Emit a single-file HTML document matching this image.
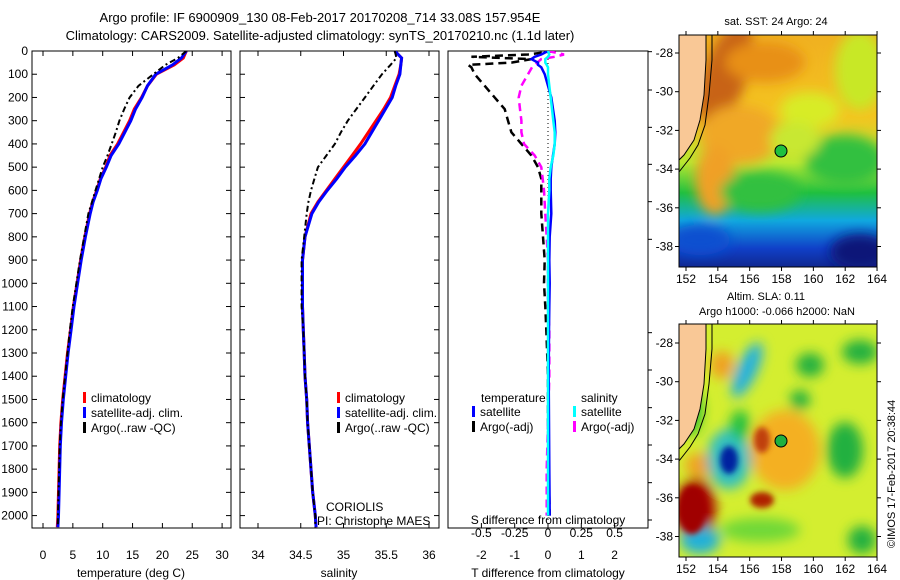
<!DOCTYPE html>
<html><head><meta charset="utf-8"><style>
body{margin:0;background:#fff;}
svg{display:block;font-family:"Liberation Sans",sans-serif;}
</style></head><body>
<svg id="c" width="900" height="580" xmlns="http://www.w3.org/2000/svg">
<defs>
<filter id="bl" x="-50%" y="-50%" width="200%" height="200%"><feGaussianBlur stdDeviation="6"/></filter>
<filter id="bl2" x="-50%" y="-50%" width="200%" height="200%"><feGaussianBlur stdDeviation="3"/></filter>
<clipPath id="m1"><rect x="679" y="35" width="198" height="232"/></clipPath>
<clipPath id="m2"><rect x="679" y="324" width="198" height="233"/></clipPath>
<clipPath id="p1"><rect x="32" y="51" width="199" height="477"/></clipPath>
<clipPath id="p2"><rect x="240" y="51" width="199" height="477"/></clipPath>
<clipPath id="p3"><rect x="448" y="51" width="200" height="477"/></clipPath>
<linearGradient id="sstg" x1="0" y1="0" x2="0" y2="1">
<stop offset="0" stop-color="#f0b020"/><stop offset="0.35" stop-color="#f4c420"/><stop offset="0.55" stop-color="#b8e830"/><stop offset="0.68" stop-color="#20c040"/><stop offset="0.8" stop-color="#10a8e0"/><stop offset="0.92" stop-color="#1040c8"/><stop offset="1" stop-color="#102890"/>
</linearGradient>
</defs>
<text x="320" y="22" font-size="13" text-anchor="middle">Argo profile: IF 6900909_130 08-Feb-2017 20170208_714 33.08S 157.954E</text>
<text x="320" y="40" font-size="13" text-anchor="middle">Climatology: CARS2009. Satellite-adjusted climatology: synTS_20170210.nc (1.1d later)</text>
<g id="g1"></g>
<g id="g2"></g>
<g id="g3"></g>

<g>
<g clip-path="url(#m1)">
<rect x="679" y="35" width="198" height="232" fill="url(#sstg)"/>
<g filter="url(#bl)">
<ellipse cx="725" cy="75" rx="22" ry="55" fill="#c86418" transform="rotate(20 725 75)"/>
<ellipse cx="765" cy="62" rx="40" ry="20" fill="#e89018"/>
<ellipse cx="740" cy="135" rx="40" ry="30" fill="#f0a828"/>
<ellipse cx="715" cy="180" rx="20" ry="35" fill="#f0a028"/>
<ellipse cx="860" cy="70" rx="25" ry="40" fill="#c8e828"/>
<ellipse cx="810" cy="110" rx="30" ry="18" fill="#d8ec28"/>
<ellipse cx="760" cy="192" rx="40" ry="20" fill="#30c040"/>
<ellipse cx="845" cy="160" rx="40" ry="25" fill="#30c040"/>
<ellipse cx="795" cy="140" rx="25" ry="18" fill="#c8e830"/>
<ellipse cx="700" cy="240" rx="30" ry="15" fill="#1050d0"/>
<ellipse cx="860" cy="252" rx="30" ry="18" fill="#081878"/>
</g>
<polygon points="679,35 706,35 706,60 704,95 700,120 694,140 684,155 679,160" fill="#f9c896"/>
<polyline points="706,35 706,60 704,95 700,120 694,140 684,155 679,160" fill="none" stroke="#000" stroke-width="1"/>
<polyline points="712,35 712,60 709,95 705,125 698,145 690,158 679,172" fill="none" stroke="#000" stroke-width="1"/>
</g>
<rect x="679" y="35" width="198" height="232" fill="none" stroke="#000"/>
<circle cx="781" cy="151" r="6" fill="#20c040" stroke="#000"/>
<text x="776" y="25" font-size="11" text-anchor="middle">sat. SST: 24 Argo: 24</text>
</g>

<g>
<g clip-path="url(#m2)">
<rect x="679" y="324" width="198" height="233" fill="#d4ee30"/>
<g filter="url(#bl)">
<ellipse cx="696" cy="510" rx="20" ry="32" fill="#a80000"/>
<ellipse cx="700" cy="465" rx="15" ry="12" fill="#f0a020"/>
<ellipse cx="729" cy="459" rx="22" ry="30" fill="#30c0c0"/>
<ellipse cx="747" cy="370" rx="10" ry="30" fill="#20b0e0" transform="rotate(25 747 370)"/>
<ellipse cx="785" cy="450" rx="35" ry="40" fill="#f4b020"/>
<ellipse cx="722" cy="365" rx="12" ry="14" fill="#f0a020"/>
<ellipse cx="810" cy="365" rx="14" ry="12" fill="#20b040"/>
<ellipse cx="800" cy="400" rx="10" ry="10" fill="#20b040"/>
<ellipse cx="845" cy="450" rx="18" ry="28" fill="#20b040"/>
<ellipse cx="860" cy="352" rx="18" ry="12" fill="#20b040"/>
<ellipse cx="760" cy="530" rx="40" ry="12" fill="#70d838"/>
<ellipse cx="700" cy="540" rx="20" ry="14" fill="#20b0d8"/>
<ellipse cx="862" cy="540" rx="14" ry="14" fill="#20b040"/>
<ellipse cx="690" cy="410" rx="12" ry="25" fill="#20c030"/>
<ellipse cx="740" cy="425" rx="10" ry="15" fill="#20c040"/>
</g>
<g filter="url(#bl2)">
<ellipse cx="729" cy="460" rx="9" ry="14" fill="#0020a0"/>
<ellipse cx="762" cy="440" rx="8" ry="13" fill="#c04010"/>
<ellipse cx="762" cy="500" rx="12" ry="8" fill="#b02000"/>
<ellipse cx="692" cy="510" rx="14" ry="24" fill="#a00000"/>
</g>
<polygon points="679,324 706,324 706,349 704,384 700,409 694,429 684,444 679,449" fill="#f9c896"/>
<polyline points="706,324 706,349 704,384 700,409 694,429 684,444 679,449" fill="none" stroke="#000"/>
<polyline points="712,324 712,349 709,384 705,414 698,434 690,447 679,461" fill="none" stroke="#000"/>
</g>
<rect x="679" y="324" width="198" height="233" fill="none" stroke="#000"/>
<circle cx="781" cy="441" r="6" fill="#20b040" stroke="#000"/>
<text x="766" y="300" font-size="11" text-anchor="middle">Altim. SLA: 0.11</text>
<text x="777" y="315" font-size="11" text-anchor="middle">Argo h1000: -0.066 h2000: NaN</text>
<text transform="translate(895 548) rotate(-90)" font-size="11">©IMOS 17-Feb-2017 20:38:44</text>
</g>
<g id="maxes"></g>
</svg>
<script>
// ---- data ----
const depths = [0,30,60,100,150,200,250,300,350,400,450,500,550,600,650,700,800,900,1000,1100,1200,1300,1400,1500,1600,1700,1800,1900,2000,2050];
const tempClim = [24,23.5,22,19,17.5,16.5,15.3,14.5,13.5,12.5,11.2,10.5,9.6,9,8.3,7.8,7,6.3,5.7,5.1,4.6,4.1,3.7,3.3,3.0,2.8,2.7,2.6,2.5,2.4];
const tempSat = [24,23.2,21.7,18.9,17.5,16.6,15.5,14.7,13.7,12.7,11.4,10.6,9.7,9.1,8.4,7.9,7.1,6.4,5.8,5.2,4.7,4.2,3.8,3.4,3.1,2.9,2.8,2.7,2.6,2.5];
const tempArgo = [24,22.6,20.5,18.5,16,14.5,13.6,12.8,12.2,11.5,10.8,10.0,9.4,8.8,8.2,7.6,6.9,6.2,5.6,5.0,4.5,4.1,3.7,3.3,3.0,2.8,2.7,2.6,2.5,2.5];
const salClim = [35.6,35.68,35.67,35.65,35.6,35.55,35.47,35.38,35.29,35.2,35.1,35.0,34.9,34.8,34.7,34.62,34.55,34.52,34.52,34.52,34.53,34.54,34.55,34.57,34.58,34.6,34.62,34.64,34.67,34.68];
const salSat = [35.6,35.68,35.67,35.66,35.61,35.57,35.49,35.41,35.33,35.25,35.14,35.02,34.92,34.81,34.71,34.63,34.55,34.52,34.52,34.52,34.53,34.54,34.55,34.57,34.58,34.6,34.62,34.64,34.67,34.68];
const salArgo = [35.6,35.62,35.55,35.45,35.35,35.25,35.15,35.05,34.97,34.9,34.8,34.7,34.66,34.62,34.59,34.57,34.54,34.51,34.51,34.51,34.53,34.54,34.55,34.57,34.58,34.6,34.62,34.64,34.67,34.67];
const tDiffDepths = [0,15,25,35,50,60,70,100,150,200,250,300,350,400,450,500,550,600,700,800,900,1000,1100,1200,1400,1600,1800,2000];
const tDiffArgo = [0.2,-0.6,-2.3,-0.5,-1.1,-2.4,-2.3,-2.2,-1.9,-1.6,-1.3,-1.2,-1.1,-0.8,-0.5,-0.3,-0.2,-0.2,-0.2,-0.15,-0.1,-0.12,-0.08,-0.05,0,0,0.02,0.05];
const tDiffSat = [0,-0.2,-0.4,-0.5,-0.3,-0.3,-0.2,-0.1,0,0.1,0.15,0.2,0.22,0.2,0.15,0.1,0.08,0.08,0.1,0.05,0.04,0.05,0.04,0.03,0.02,0.03,0.04,0.05];
const sDiffArgo = [0,0.12,0.05,-0.05,-0.08,-0.1,-0.12,-0.15,-0.2,-0.22,-0.21,-0.2,-0.2,-0.18,-0.1,-0.05,-0.04,-0.03,-0.02,-0.01,0,0,0,0.01,0.01,0,-0.01,-0.01];
const sDiffSat = [0,0.01,0,-0.02,-0.02,-0.01,0,0,0.01,0.02,0.03,0.04,0.05,0.05,0.04,0.02,0.01,0.01,0,0,0,0,0,0,0,0,0,0];
const depthTicks = [0,100,200,300,400,500,600,700,800,900,1000,1100,1200,1300,1400,1500,1600,1700,1800,1900,2000];
const tempTicks = [0,5,10,15,20,25,30];
const salTicks = [34,34.5,35,35.5,36];
const tDiffTicks = [-2,-1,0,1,2];
const sDiffTicks = [-0.5,-0.25,0,0.25,0.5];
const lonTicks = [152,154,156,158,160,162,164];
const latTicks = [-28,-30,-32,-34,-36,-38];

const NS='http://www.w3.org/2000/svg';
function mk(tag,attrs,parent,txt){const e=document.createElementNS(NS,tag);for(const k in attrs)e.setAttribute(k,attrs[k]);if(txt!==undefined)e.textContent=txt;parent.appendChild(e);return e;}
const yD = d => 51 + d*0.2323;
const xT = v => 43 + v*5.97;
const xS = v => 258 + (v-34)*85.5;
const xDT = v => 548 + v*33.3;
const xDS = v => 548 + v*133.2;

function frame(g,x0,x1){
  const r=mk('rect',{x:x0,y:51,width:x1-x0,height:477,fill:'none',stroke:'#000'},g);
  
  
}
function line(g,xs,ds,xf,color,w,dash,clip){
  const pts=xs.map((v,i)=>xf(v).toFixed(1)+','+yD(ds[i]).toFixed(1)).join(' ');
  const p=mk('polyline',{points:pts,fill:'none',stroke:color,'stroke-width':w,'clip-path':clip},g);
  if(dash)p.setAttribute('stroke-dasharray',dash);
  
  
  return p;
}
function xticks(g,ticks,xf,y){
  ticks.forEach(t=>{mk('line',{x1:xf(t),x2:xf(t),y1:528,y2:523,stroke:'#000'},g);mk('line',{x1:xf(t),x2:xf(t),y1:51,y2:56,stroke:'#000'},g);
    const tx=mk('text',{x:xf(t),y:y,'font-size':12,'text-anchor':'middle'},g,String(t));
    
    });
}
function legend(g,x,y,items){
  items.forEach((it,i)=>{mk('rect',{x:x,y:y+i*15-10,width:3,height:11,fill:it[0]},g);
    const t=mk('text',{x:x+8,y:y+i*15,'font-size':12},g,it[1]);
    
    });
}
// panel 1
const g1=document.getElementById('g1');
frame(g1,32,231);
depthTicks.forEach(d=>{mk('line',{x1:32,x2:37,y1:yD(d),y2:yD(d),stroke:'#000'},g1);mk('line',{x1:231,x2:226,y1:yD(d),y2:yD(d),stroke:'#000'},g1);
  const t=mk('text',{x:28,y:yD(d)+4,'font-size':12,'text-anchor':'end'},g1,String(d));
  
  });
xticks(g1,tempTicks,xT,559);
mk('text',{x:131,y:577,'font-size':12,'text-anchor':'middle'},g1,'temperature (deg C)');
line(g1,tempClim,depths,xT,'#f00',3,null,'url(#p1)');
line(g1,tempSat,depths,xT,'#00f',3,null,'url(#p1)');
line(g1,tempArgo,depths,xT,'#000',2,'6,3,2,3','url(#p1)');
legend(g1,83,402,[['#f00','climatology'],['#00f','satellite-adj. clim.'],['#000','Argo(..raw -QC)']]);
// panel 2
const g2=document.getElementById('g2');
frame(g2,240,439);
depthTicks.forEach(d=>{mk('line',{x1:240,x2:245,y1:yD(d),y2:yD(d),stroke:'#000'},g2);mk('line',{x1:439,x2:434,y1:yD(d),y2:yD(d),stroke:'#000'},g2);});
xticks(g2,salTicks,xS,559);
mk('text',{x:339,y:577,'font-size':12,'text-anchor':'middle'},g2,'salinity');
line(g2,salClim,depths,xS,'#f00',3,null,'url(#p2)');
line(g2,salSat,depths,xS,'#00f',3,null,'url(#p2)');
line(g2,salArgo,depths,xS,'#000',2,'6,3,2,3','url(#p2)');
legend(g2,337,402,[['#f00','climatology'],['#00f','satellite-adj. clim.'],['#000','Argo(..raw -QC)']]);
mk('text',{x:326,y:511,'font-size':12},g2,'CORIOLIS');
mk('text',{x:317,y:525,'font-size':12},g2,'PI: Christophe MAES');
// panel 3
const g3=document.getElementById('g3');
frame(g3,448,648);
mk('line',{x1:548,x2:548,y1:51,y2:528,stroke:'#000','stroke-dasharray':'1,3'},g3);
line(g3,tDiffArgo,tDiffDepths,xDT,'#000',2.5,'8,5','url(#p3)');
line(g3,sDiffArgo,tDiffDepths,xDS,'#f0f',2.5,'8,5','url(#p3)');
line(g3,tDiffSat,tDiffDepths,xDT,'#00f',2.5,null,'url(#p3)');
line(g3,sDiffSat,tDiffDepths,xDS,'#0ff',2.5,null,'url(#p3)');
tDiffTicks.forEach(t=>{mk('line',{x1:xDT(t),x2:xDT(t),y1:528,y2:523,stroke:'#000'},g3);
  mk('text',{x:xDT(t),y:559,'font-size':12,'text-anchor':'middle'},g3,String(t));});
sDiffTicks.forEach(t=>{mk('text',{x:xDS(t),y:537,'font-size':12,'text-anchor':'middle'},g3,String(t));});
mk('text',{x:548,y:524,'font-size':12,'text-anchor':'middle'},g3,'S difference from climatology');
mk('text',{x:548,y:577,'font-size':12,'text-anchor':'middle'},g3,'T difference from climatology');
[35,150,262,373,485,598,878,990,1103,1215,1328,1440].forEach(v=>mk('line',{x1:648,x2:652,y1:40+v/3,y2:40+v/3,stroke:'#000'},g3));
mk('text',{x:481,y:402,'font-size':12},g3,'temperature');
mk('text',{x:581,y:402,'font-size':12},g3,'salinity');
legend(g3,472,416,[['#00f','satellite'],['#000','Argo(-adj)']]);
legend(g3,573,416,[['#0ff','satellite'],['#f0f','Argo(-adj)']]);
// map axes
const ma=document.getElementById('maxes');
function mapAxes(top,bot,lat0){
  lonTicks.forEach(l=>{const x=686+(l-152)*15.92;mk('line',{x1:x,x2:x,y1:top,y2:top-4,stroke:'#000'},ma);mk('line',{x1:x,x2:x,y1:bot,y2:bot+4,stroke:'#000'},ma);
    mk('text',{x:x,y:bot+16,'font-size':12,'text-anchor':'middle'},ma,String(l));});
  latTicks.forEach(l=>{const y=lat0+(-28-l)*19.35;mk('line',{x1:679,x2:675,y1:y,y2:y,stroke:'#000'},ma);mk('line',{x1:877,x2:881,y1:y,y2:y,stroke:'#000'},ma);
    mk('text',{x:673,y:y+4,'font-size':12,'text-anchor':'end'},ma,String(l));});
}
mapAxes(35,267,53);
mapAxes(324,557,343);
</script>
</body></html>
